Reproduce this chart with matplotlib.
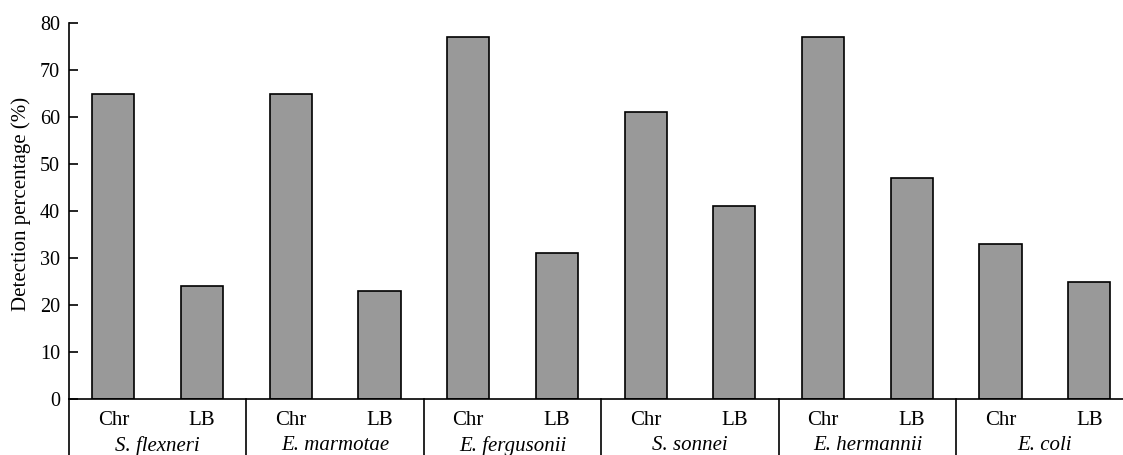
import numpy as np
import matplotlib.pyplot as plt
import matplotlib.transforms as mtransforms

species = ['S. flexneri', 'E. marmotae', 'E. fergusonii', 'S. sonnei', 'E. hermannii', 'E. coli']
media = ['Chr', 'LB']
chr_pct = [65, 65, 77, 61, 77, 33]
lb_pct = [24, 23, 31, 41, 47, 25]

plt.rcParams['font.family'] = ['Liberation Serif', 'DejaVu Serif']

values = []
for c, l in zip(chr_pct, lb_pct):
    values += [c, l]
x = np.arange(len(values))

fig = plt.figure(figsize=(11.23, 4.55), dpi=100)
ax = fig.add_axes([69 / 1123, 56 / 455, 1 - 69 / 1123, 376 / 455])

ax.bar(x, values, width=0.475, color='#999999', edgecolor='black', linewidth=1.2)

ax.set_xlim(-0.5, 11.38)
ax.set_ylim(0, 80)
ax.set_yticks(np.arange(0, 81, 10))
ax.tick_params(axis='y', direction='in', length=6.5, width=1.2, pad=6.5, labelsize=14.5)
ax.set_xticks([])
ax.set_ylabel('Detection percentage (%)', fontsize=15)
ax.yaxis.set_label_coords(-0.036, 0.52)

for side in ['top', 'right']:
    ax.spines[side].set_visible(False)
for side in ['left', 'bottom']:
    ax.spines[side].set_linewidth(1.2)

# group dividers running down below the axis
trans = mtransforms.blended_transform_factory(ax.transData, ax.transAxes)
for g in range(len(species)):
    xs = 2 * g - 0.5
    ax.plot([xs, xs], [0, -0.2], color='black', lw=1.2, transform=trans, clip_on=False)
    for k, m in enumerate(media):
        ax.text(2 * g + k, -0.058, m, transform=trans, ha='center', va='center', fontsize=15)
    ax.text(2 * g + 0.5, -0.124, species[g], transform=trans, ha='center', va='center',
            fontsize=15, style='italic')

fig.savefig('out.png', dpi=100)
